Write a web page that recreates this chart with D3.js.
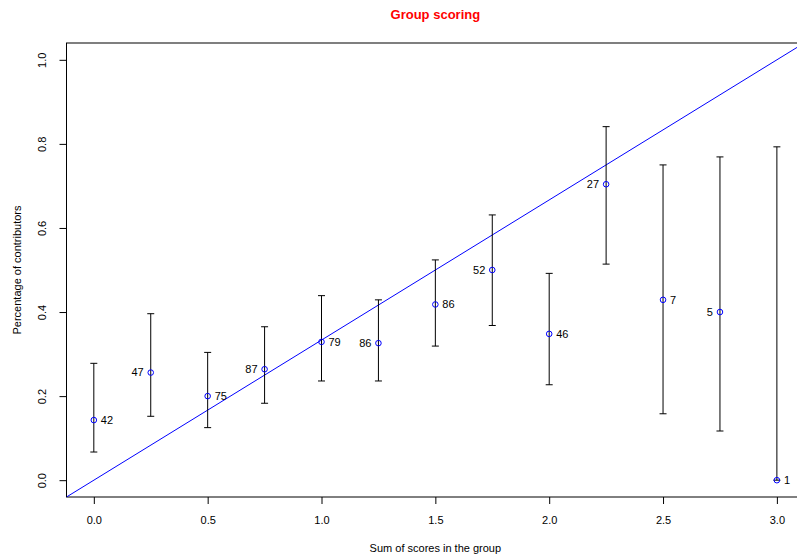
<!DOCTYPE html>
<html><head><meta charset="utf-8">
<script src="https://cdn.jsdelivr.net/npm/d3@7"></script>
<style>body{margin:0;background:#fff}svg{display:block}text{font-family:"Liberation Sans",Arial,sans-serif}</style>
</head><body>
<svg id="c" width="797" height="559"></svg>
<script>
const scores = [0, 0.25, 0.5, 0.75, 1.0, 1.25, 1.5, 1.75, 2.0, 2.25, 2.5, 2.75, 3.0];
const pct    = [0.143, 0.256, 0.200, 0.264, 0.329, 0.326, 0.418, 0.500, 0.348, 0.704, 0.429, 0.400, 0.0];
const lower  = [0.067, 0.152, 0.125, 0.183, 0.236, 0.236, 0.319, 0.368, 0.227, 0.514, 0.158, 0.117, 0.0];
const upper  = [0.278, 0.396, 0.304, 0.365, 0.439, 0.429, 0.524, 0.631, 0.492, 0.841, 0.750, 0.769, 0.793];
const counts = [42, 47, 75, 87, 79, 86, 86, 52, 46, 27, 7, 5, 1];
const labelSide = ["r","l","r","l","r","l","r","l","r","l","r","l","r"];
const xTicks = [0, 0.5, 1.0, 1.5, 2.0, 2.5, 3.0];
const yTicks = [0, 0.2, 0.4, 0.6, 0.8, 1.0];

const svg = d3.select("#c");
const L = 66.5, R = 804.2, T = 43, B = 497;
const x = d3.scaleLinear().domain([-0.12, 3.12]).range([L, R]);
const y = d3.scaleLinear().domain([-0.04, 1.04]).range([B, T]);

svg.append("defs").append("clipPath").attr("id","clip")
  .append("rect").attr("x",L).attr("y",T).attr("width",R-L).attr("height",B-T);

// box
svg.append("rect").attr("x",L).attr("y",T).attr("width",R-L).attr("height",B-T)
  .attr("fill","none").attr("stroke","#000").attr("stroke-width",1);

// axes
const xa = svg.append("g").attr("transform",`translate(0,${B})`)
  .call(d3.axisBottom(x).tickValues(xTicks).tickFormat(d3.format(".1f")).tickSize(7).tickPadding(12));
xa.select(".domain").remove();
xa.selectAll("text").attr("font-size",11).attr("fill","#000").attr("font-family","Liberation Sans, Arial, sans-serif");

const ya = svg.append("g").attr("transform",`translate(${L},0)`)
  .call(d3.axisLeft(y).tickValues(yTicks).tickFormat(d3.format(".1f")).tickSize(7).tickPadding(0));
ya.select(".domain").remove();
ya.selectAll("text").attr("font-size",11).attr("fill","#000").attr("font-family","Liberation Sans, Arial, sans-serif")
  .attr("transform", d => `translate(-22,0) rotate(-90)`).attr("text-anchor","middle").attr("dy","0.35em").attr("x",0);
ya.selectAll(".tick text").each(function(){ d3.select(this).attr("transform", "rotate(-90)").attr("x", 0).attr("y", -21).attr("dy", "0"); });

// reference line y = x/3
svg.append("line").attr("clip-path","url(#clip)")
  .attr("x1",x(-0.12)).attr("y1",y(-0.04)).attr("x2",x(3.12)).attr("y2",y(1.04))
  .attr("stroke","#0000ff").attr("stroke-width",1);

// error bars
const g = svg.append("g");
scores.forEach((s,i)=>{
  const cx = x(s);
  g.append("line").attr("x1",cx).attr("x2",cx).attr("y1",y(lower[i])).attr("y2",y(upper[i])).attr("stroke","#000");
  [lower[i], upper[i]].forEach(v=>{
    g.append("line").attr("x1",cx-3.5).attr("x2",cx+3.5).attr("y1",y(v)).attr("y2",y(v)).attr("stroke","#000");
  });
});

// points
svg.append("g").selectAll("circle").data(scores).join("circle")
  .attr("cx",d=>x(d)).attr("cy",(d,i)=>y(pct[i])).attr("r",2.8)
  .attr("fill","none").attr("stroke","#0000ff").attr("stroke-width",1);

// count labels
svg.append("g").selectAll("text").data(scores).join("text")
  .attr("x",(d,i)=> labelSide[i]==="r" ? x(d)+7 : x(d)-7)
  .attr("y",(d,i)=> y(pct[i]))
  .attr("dy","0.35em")
  .attr("text-anchor",(d,i)=> labelSide[i]==="r" ? "start" : "end")
  .attr("font-size",11).attr("fill","#000")
  .text((d,i)=>counts[i]);

// titles
svg.append("text").attr("x",(L+R)/2).attr("y",19).attr("text-anchor","middle")
  .attr("font-size",13).attr("font-weight","bold").attr("fill","#ff0000").text("Group scoring");
svg.append("text").attr("x",(L+R)/2).attr("y",552).attr("text-anchor","middle")
  .attr("font-size",11).attr("fill","#000").text("Sum of scores in the group");
svg.append("text").attr("transform",`translate(21,${(T+B)/2}) rotate(-90)`).attr("text-anchor","middle")
  .attr("font-size",11).attr("fill","#000").text("Percentage of contributors");
</script>
</body></html>
